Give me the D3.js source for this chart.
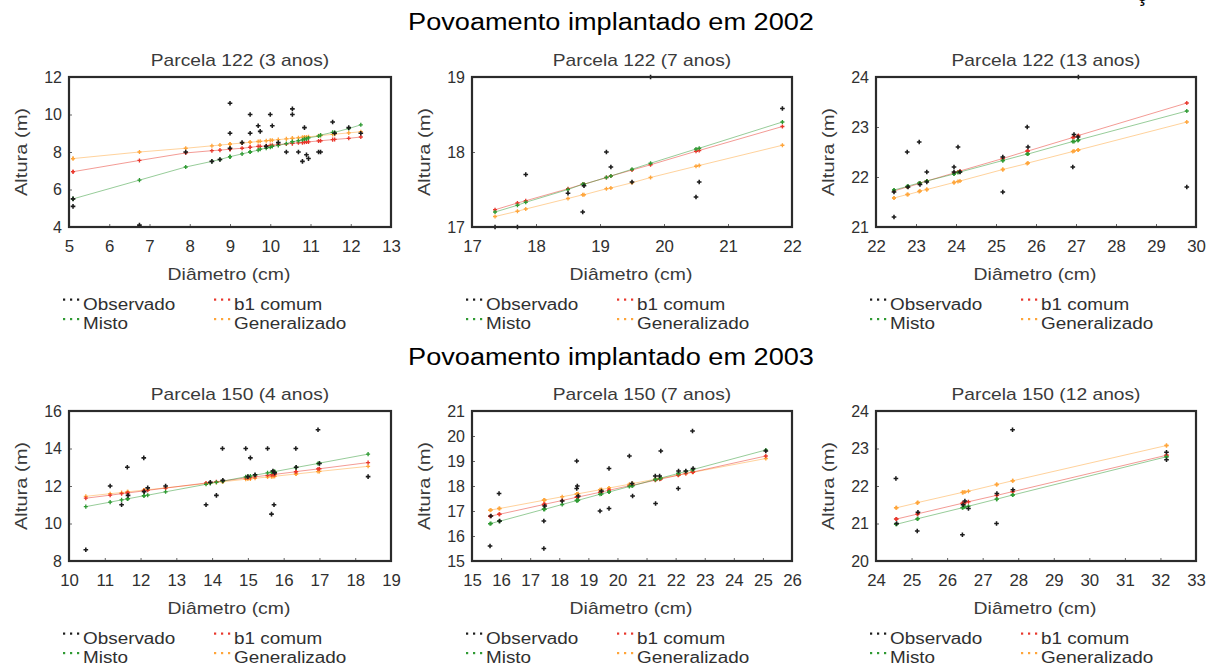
<!DOCTYPE html>
<html>
<head>
<meta charset="utf-8">
<script src="https://cdn.jsdelivr.net/npm/d3@7"></script>
<style>
  body { margin: 0; background: #fff; }
  svg { display: block; }
</style>
</head>
<body>
<svg id="chart" width="1211" height="667"></svg>
<script>
// ---- Labels ----
const sectionTitles = ["Povoamento implantado em 2002", "Povoamento implantado em 2003"];
const panelTitles = [
  "Parcela 122 (3 anos)", "Parcela 122 (7 anos)", "Parcela 122 (13 anos)",
  "Parcela 150 (4 anos)", "Parcela 150 (7 anos)", "Parcela 150 (12 anos)"
];
const seriesNames = ["Observado", "b1 comum", "Misto", "Generalizado"];
const xTitle = "Diâmetro (cm)";
const yTitle = "Altura (m)";

// ---- Parcela 122, 3 anos ----
const p1Diam  = [5.1, 5.1, 6.75, 7.9, 8.55, 8.75, 9.0, 9.0, 9.0, 9.3, 9.5, 9.5, 9.7, 9.75, 9.9, 10.0, 10.05, 10.2, 10.4, 10.55, 10.55, 10.7, 10.8, 10.85, 10.9, 10.95, 11.2, 11.25, 11.55, 11.6, 11.95, 12.25];
const p1Obs   = [5.5, 5.1, 4.1, 8.0, 7.5, 7.6, 10.6, 9.0, 8.2, 8.5, 10.0, 9.0, 9.4, 9.1, 8.3, 10.0, 9.4, 8.5, 8.0, 10.3, 10.0, 8.0, 7.5, 9.3, 7.85, 7.65, 8.0, 8.0, 9.6, 9.0, 9.3, 9.0];
const p1B1    = [6.95, 6.95, 7.55, 7.95, 8.07, 8.1, 8.15, 8.15, 8.15, 8.2, 8.25, 8.25, 8.3, 8.3, 8.33, 8.35, 8.36, 8.4, 8.43, 8.46, 8.46, 8.49, 8.5, 8.52, 8.53, 8.54, 8.59, 8.6, 8.66, 8.67, 8.73, 8.8];
const p1Misto = [5.5, 5.5, 6.5, 7.2, 7.5, 7.6, 7.75, 7.75, 7.75, 7.9, 8.0, 8.0, 8.1, 8.15, 8.2, 8.25, 8.3, 8.35, 8.45, 8.55, 8.55, 8.6, 8.65, 8.7, 8.7, 8.75, 8.85, 8.9, 9.05, 9.05, 9.25, 9.45];
const p1Gen   = [7.65, 7.65, 8.0, 8.2, 8.33, 8.37, 8.42, 8.42, 8.42, 8.48, 8.52, 8.52, 8.56, 8.57, 8.6, 8.62, 8.63, 8.66, 8.7, 8.73, 8.73, 8.76, 8.79, 8.8, 8.8, 8.81, 8.86, 8.88, 8.94, 8.95, 9.02, 9.08];
const p1XTicks = [5, 6, 7, 8, 9, 10, 11, 12, 13];
const p1YTicks = [4, 6, 8, 10, 12];

// ---- Parcela 122, 7 anos ----
const p2Diam  = [17.36, 17.71, 17.84, 18.5, 18.73, 18.75, 19.1, 19.17, 19.5, 19.79, 20.5, 20.55, 21.85];
const p2Obs   = [17.0, 17.0, 17.7, 17.45, 17.2, 17.55, 18.0, 17.8, 17.6, 19.0, 17.4, 17.6, 18.58];
const p2B1    = [17.23, 17.32, 17.35, 17.51, 17.57, 17.57, 17.66, 17.68, 17.76, 17.83, 18.01, 18.02, 18.34];
const p2Misto = [17.2, 17.29, 17.33, 17.5, 17.57, 17.57, 17.66, 17.68, 17.77, 17.85, 18.04, 18.05, 18.4];
const p2Gen   = [17.14, 17.21, 17.24, 17.38, 17.43, 17.43, 17.51, 17.52, 17.59, 17.66, 17.81, 17.82, 18.09];
const p2XTicks = [17, 18, 19, 20, 21, 22];
const p2YTicks = [17, 18, 19];

// ---- Parcela 122, 13 anos ----
const p3Diam  = [22.45, 22.45, 22.78, 22.8, 23.08, 23.1, 23.27, 23.27, 23.95, 23.95, 24.05, 24.1, 25.17, 25.17, 25.78, 25.8, 26.92, 26.95, 27.05, 27.06, 29.77];
const p3Obs   = [21.2, 21.7, 22.5, 21.8, 22.7, 21.85, 22.1, 21.9, 22.2, 22.1, 22.6, 22.1, 21.7, 22.4, 23.0, 22.6, 22.2, 22.85, 22.8, 24.0, 21.8];
const p3B1    = [21.72, 21.72, 21.8, 21.8, 21.87, 21.88, 21.92, 21.92, 22.08, 22.08, 22.1, 22.12, 22.37, 22.37, 22.52, 22.52, 22.79, 22.8, 22.82, 22.83, 23.48];
const p3Misto = [21.74, 21.74, 21.81, 21.82, 21.88, 21.88, 21.92, 21.92, 22.06, 22.06, 22.09, 22.1, 22.33, 22.33, 22.46, 22.46, 22.71, 22.71, 22.73, 22.74, 23.32];
const p3Gen   = [21.58, 21.58, 21.65, 21.65, 21.71, 21.72, 21.75, 21.75, 21.89, 21.89, 21.91, 21.92, 22.15, 22.15, 22.27, 22.28, 22.51, 22.52, 22.54, 22.54, 23.1];
const p3XTicks = [22, 23, 24, 25, 26, 27, 28, 29, 30];
const p3YTicks = [21, 22, 23, 24];

// ---- Parcela 150, 4 anos ----
const p4Diam  = [10.47, 11.15, 11.47, 11.63, 11.65, 12.09, 12.1, 12.2, 12.7, 13.83, 13.95, 14.12, 14.29, 14.3, 14.94, 15.0, 15.07, 15.2, 15.55, 15.66, 15.7, 15.73, 15.75, 16.34, 16.35, 16.96, 17.0, 18.36];
const p4Obs   = [8.6, 12.0, 11.0, 13.0, 11.5, 13.5, 11.7, 11.9, 12.0, 11.0, 12.2, 11.5, 14.0, 12.3, 14.0, 12.5, 13.5, 12.6, 14.0, 10.5, 12.8, 11.0, 12.7, 14.0, 13.0, 15.0, 13.2, 12.5];
const p4B1    = [11.35, 11.51, 11.59, 11.63, 11.63, 11.74, 11.74, 11.77, 11.89, 12.16, 12.19, 12.23, 12.27, 12.27, 12.43, 12.44, 12.46, 12.49, 12.57, 12.6, 12.61, 12.62, 12.62, 12.76, 12.77, 12.91, 12.92, 13.25];
const p4Misto = [10.9, 11.14, 11.26, 11.31, 11.32, 11.48, 11.48, 11.51, 11.69, 12.09, 12.14, 12.2, 12.26, 12.26, 12.49, 12.51, 12.53, 12.58, 12.7, 12.74, 12.76, 12.77, 12.77, 12.98, 12.99, 13.2, 13.22, 13.7];
const p4Gen   = [11.45, 11.59, 11.65, 11.69, 11.69, 11.78, 11.78, 11.8, 11.9, 12.13, 12.16, 12.19, 12.23, 12.23, 12.36, 12.37, 12.38, 12.41, 12.48, 12.5, 12.51, 12.52, 12.52, 12.64, 12.64, 12.77, 12.78, 13.05];
const p4XTicks = [10, 11, 12, 13, 14, 15, 16, 17, 18, 19];
const p4YTicks = [8, 10, 12, 14, 16];

// ---- Parcela 150, 7 anos ----
const p5Diam  = [15.62, 15.65, 15.93, 15.95, 17.47, 17.47, 17.5, 18.1, 18.6, 18.6, 18.62, 18.65, 19.4, 19.45, 19.71, 19.71, 20.41, 20.5, 20.52, 21.3, 21.31, 21.45, 21.49, 22.09, 22.1, 22.35, 22.58, 22.6, 25.1];
const p5Obs   = [15.6, 16.8, 17.7, 16.6, 16.6, 15.5, 17.2, 17.4, 19.0, 17.9, 18.0, 17.6, 17.0, 17.8, 17.1, 18.7, 19.2, 18.1, 17.6, 18.4, 17.3, 18.4, 19.4, 17.9, 18.6, 18.6, 20.2, 18.7, 19.4];
const p5B1    = [16.79, 16.8, 16.87, 16.87, 17.26, 17.26, 17.27, 17.42, 17.55, 17.55, 17.55, 17.56, 17.75, 17.76, 17.83, 17.83, 18.01, 18.03, 18.03, 18.23, 18.24, 18.27, 18.28, 18.43, 18.44, 18.5, 18.56, 18.56, 19.2];
const p5Misto = [16.49, 16.5, 16.59, 16.59, 17.07, 17.07, 17.07, 17.26, 17.42, 17.42, 17.42, 17.43, 17.67, 17.68, 17.76, 17.76, 17.98, 18.01, 18.01, 18.26, 18.26, 18.3, 18.32, 18.5, 18.51, 18.58, 18.65, 18.66, 19.44];
const p5Gen   = [17.03, 17.04, 17.1, 17.1, 17.43, 17.43, 17.44, 17.57, 17.68, 17.68, 17.68, 17.69, 17.85, 17.86, 17.92, 17.92, 18.07, 18.09, 18.1, 18.27, 18.27, 18.3, 18.31, 18.44, 18.44, 18.5, 18.55, 18.55, 19.1];
const p5XTicks = [15, 16, 17, 18, 19, 20, 21, 22, 23, 24, 25, 26];
const p5YTicks = [15, 16, 17, 18, 19, 20, 21];

// ---- Parcela 150, 12 anos ----
const p6Diam  = [24.56, 24.58, 25.16, 25.18, 26.43, 26.45, 26.5, 26.6, 27.39, 27.4, 27.84, 27.85, 32.17, 32.17];
const p6Obs   = [22.2, 21.0, 20.8, 21.3, 20.7, 21.5, 21.6, 21.4, 21.0, 21.8, 23.5, 21.9, 22.7, 22.9];
const p6B1    = [21.12, 21.12, 21.25, 21.26, 21.54, 21.54, 21.55, 21.58, 21.75, 21.75, 21.85, 21.85, 22.82, 22.82];
const p6Misto = [20.98, 20.98, 21.12, 21.13, 21.42, 21.43, 21.44, 21.46, 21.65, 21.65, 21.76, 21.76, 22.78, 22.78];
const p6Gen   = [21.42, 21.42, 21.55, 21.56, 21.83, 21.83, 21.84, 21.86, 22.04, 22.04, 22.14, 22.14, 23.08, 23.08];
const p6XTicks = [24, 25, 26, 27, 28, 29, 30, 31, 32, 33];
const p6YTicks = [20, 21, 22, 23, 24];

// ---- Assemble panels ----
const panels = [
  { title: panelTitles[0], diam: p1Diam, obs: p1Obs, b1: p1B1, misto: p1Misto, gen: p1Gen, xTicks: p1XTicks, yTicks: p1YTicks },
  { title: panelTitles[1], diam: p2Diam, obs: p2Obs, b1: p2B1, misto: p2Misto, gen: p2Gen, xTicks: p2XTicks, yTicks: p2YTicks },
  { title: panelTitles[2], diam: p3Diam, obs: p3Obs, b1: p3B1, misto: p3Misto, gen: p3Gen, xTicks: p3XTicks, yTicks: p3YTicks },
  { title: panelTitles[3], diam: p4Diam, obs: p4Obs, b1: p4B1, misto: p4Misto, gen: p4Gen, xTicks: p4XTicks, yTicks: p4YTicks },
  { title: panelTitles[4], diam: p5Diam, obs: p5Obs, b1: p5B1, misto: p5Misto, gen: p5Gen, xTicks: p5XTicks, yTicks: p5YTicks },
  { title: panelTitles[5], diam: p6Diam, obs: p6Obs, b1: p6B1, misto: p6Misto, gen: p6Gen, xTicks: p6XTicks, yTicks: p6YTicks }
];

// ---- Style and layout ----
const FONT = "'Liberation Sans', Arial, Helvetica, sans-serif";
const TEXT = "#303030";
const colObs = "#1c1c1c", colB1 = "#e8372c", colMisto = "#2f9a33", colGen = "#ffa53a";
const cols = [[69, 391], [472, 792], [876, 1196]];
const rows = [[77, 227], [411, 561]];

const svg = d3.select("#chart").attr("font-family", FONT);

// widen type a little, as the figure's lettering is set wide
function stretch(sel, k) {
  sel.each(function () {
    const w = this.getComputedTextLength();
    d3.select(this).attr("textLength", w * k).attr("lengthAdjust", "spacingAndGlyphs");
  });
}

// section headings
sectionTitles.forEach((t, i) => {
  svg.append("text")
    .attr("x", 611).attr("y", i === 0 ? 30 : 365)
    .attr("text-anchor", "middle")
    .attr("font-size", 23).attr("fill", "#000")
    .text(t)
    .call(stretch, 1.18);
});
// tail of the line above the page top
svg.append("text").attr("x", 1136).attr("y", 1).attr("font-size", 23).attr("fill", "#000").text("ç");

const crossBig = d3.symbol(d3.symbolCross, 12)();
const crossSmall = d3.symbol(d3.symbolCross, 9)();

panels.forEach((p, i) => {
  const [x0, x1] = cols[i % 3];
  const [y0, y1] = rows[Math.floor(i / 3)];
  const x = d3.scaleLinear().domain(d3.extent(p.xTicks)).range([x0, x1]);
  const y = d3.scaleLinear().domain(d3.extent(p.yTicks)).range([y1, y0]);
  const g = svg.append("g");

  // axes with short inward ticks
  const xa = g.append("g").attr("transform", `translate(0,${y1})`)
    .call(d3.axisBottom(x).tickValues(p.xTicks).tickSize(-3).tickPadding(13.5).tickFormat(d3.format("d")));
  const ya = g.append("g").attr("transform", `translate(${x0},0)`)
    .call(d3.axisLeft(y).tickValues(p.yTicks).tickSize(-3).tickPadding(7).tickFormat(d3.format("d")));
  [xa, ya].forEach(a => {
    a.attr("font-family", null).attr("font-size", null);
    a.select(".domain").remove();
    a.selectAll(".tick line").attr("stroke", "#666").attr("stroke-width", 1);
    a.selectAll(".tick text").attr("font-size", 16).attr("fill", TEXT);
  });
  xa.selectAll(".tick text").call(stretch, 1.05);

  // fitted curves
  const idx = d3.range(p.diam.length).sort((a, b) => p.diam[a] - p.diam[b]);
  const line = d3.line().x(k => x(p.diam[k]));
  const models = [
    { vals: p.gen, color: colGen },
    { vals: p.b1, color: colB1 },
    { vals: p.misto, color: colMisto }
  ];
  models.forEach(m => {
    g.append("path")
      .attr("d", line.y(k => y(m.vals[k]))(idx))
      .attr("fill", "none").attr("stroke", m.color)
      .attr("stroke-width", 1).attr("stroke-opacity", 0.5);
  });
  models.forEach(m => {
    g.append("g").selectAll("path").data(idx).join("path")
      .attr("d", crossSmall)
      .attr("transform", k => `translate(${x(p.diam[k])},${y(m.vals[k])})`)
      .attr("fill", m.color);
  });
  // observed heights
  g.append("g").selectAll("path").data(idx).join("path")
    .attr("d", crossBig)
    .attr("transform", k => `translate(${x(p.diam[k])},${y(p.obs[k])})`)
    .attr("fill", colObs);

  // frame
  g.append("rect")
    .attr("x", x0).attr("y", y0).attr("width", x1 - x0).attr("height", y1 - y0)
    .attr("fill", "none").attr("stroke", "#2b2b2b").attr("stroke-width", 2.2);

  // titles
  g.append("text").attr("x", (x0 + x1) / 2 + 10).attr("y", y0 - 11)
    .attr("text-anchor", "middle").attr("font-size", 17).attr("fill", "#3a3a3a")
    .text(p.title).call(stretch, 1.13);
  g.append("text").attr("x", (x0 + x1) / 2 - 1).attr("y", y1 + 53)
    .attr("text-anchor", "middle").attr("font-size", 17).attr("fill", "#3a3a3a")
    .text(xTitle).call(stretch, 1.14);
  g.append("text")
    .attr("transform", `translate(${x0 - 48},${(y0 + y1) / 2}) rotate(-90)`)
    .attr("text-anchor", "middle").attr("dominant-baseline", "central")
    .attr("font-size", 17).attr("fill", "#3a3a3a")
    .text(yTitle).call(stretch, 1.18);

  // legend
  const legendItems = [
    { name: seriesNames[0], color: colObs, dx: -6, row: 0 },
    { name: seriesNames[1], color: colB1, dx: 145, row: 0 },
    { name: seriesNames[2], color: colMisto, dx: -6, row: 1 },
    { name: seriesNames[3], color: colGen, dx: 145, row: 1 }
  ];
  legendItems.forEach(it => {
    const base = y1 + 82.5 + it.row * 19.5;
    const lx = x0 + it.dx;
    [0, 7, 14].forEach(o => {
      g.append("rect").attr("x", lx + o).attr("y", base - 11).attr("width", 2.2).attr("height", 2.2).attr("fill", it.color);
    });
    g.append("text").attr("x", lx + 20).attr("y", base)
      .attr("font-size", 16).attr("fill", TEXT)
      .text(it.name).call(stretch, 1.18);
  });
});
</script>
</body>
</html>
